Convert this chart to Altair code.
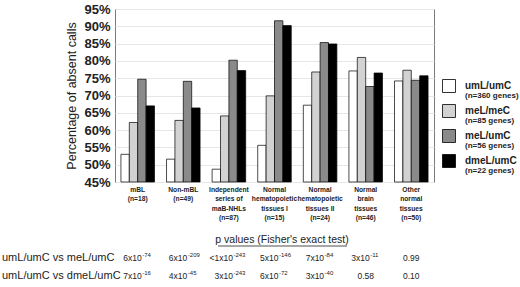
import altair as alt
import pandas as pd

groups = [
    "mBL|(n=18)",
    "Non-mBL|(n=49)",
    "Independent|series of|maB-NHLs|(n=87)",
    "Normal|hematopoietic|tissues I|(n=15)",
    "Normal|hematopoietic|tissues II|(n=24)",
    "Normal|brain|tissues|(n=46)",
    "Other|normal|tissues|(n=50)",
]
series = ["umL/umC", "meL/meC", "meL/umC", "dmeL/umC"]
series_n = ["(n=360 genes)", "(n=85 genes)", "(n=56 genes)", "(n=22 genes)"]
colors = ["#ffffff", "#d2d2d2", "#8a8a8a", "#000000"]

umL_umC = [53.0, 51.6, 48.7, 55.6, 67.2, 77.1, 74.2]
meL_meC = [62.2, 62.8, 64.1, 69.9, 76.8, 81.0, 77.3]
meL_umC = [74.7, 74.1, 80.2, 91.6, 85.3, 72.6, 74.4]
dmeL_umC = [67.0, 66.4, 77.2, 90.2, 84.9, 76.5, 75.7]

y_ticks = [45, 50, 55, 60, 65, 70, 75, 80, 85, 90, 95]

p_title = "p values (Fisher's exact test)"
row_labels = ["umL/umC vs meL/umC", "umL/umC vs dmeL/umC"]
row1_mant = ["6x10", "6x10", "<1x10", "5x10", "7x10", "3x10", "0.99"]
row1_exp = ["-74", "-209", "-243", "-146", "-84", "-11", ""]
row2_mant = ["7x10", "4x10", "3x10", "6x10", "3x10", "0.58", "0.10"]
row2_exp = ["-16", "-45", "-243", "-72", "-40", "", ""]

FONT = "Liberation Sans"

rows = []
for s, vals in zip(series, [umL_umC, meL_meC, meL_umC, dmeL_umC]):
    for g, v in zip(groups, vals):
        rows.append({"group": g, "series": s, "value": v})
bars_df = pd.DataFrame(rows)

xenc = alt.X(
    "group:N",
    sort=groups,
    scale=alt.Scale(domain=groups, paddingInner=0.264, paddingOuter=0.13),
    axis=alt.Axis(
        title=None,
        labelExpr="split(datum.label, '|')",
        labelAngle=0,
        labelFont=FONT,
        labelFontWeight="bold",
        labelFontSize=6.7,
        labelLineHeight=9.5,
        labelColor="#222",
        labelPadding=4,
        labelOverlap=False,
        labelLimit=0,
        ticks=False,
        domain=False,
    ),
)

bars = alt.Chart(bars_df).mark_bar(stroke="#000", strokeWidth=0.7).encode(
    x=xenc,
    xOffset=alt.XOffset("series:N", sort=series, scale=alt.Scale(domain=series, paddingInner=0, paddingOuter=0)),
    y=alt.Y(
        "value:Q",
        scale=alt.Scale(domain=[45, 95], zero=False, nice=False, clamp=True),
        axis=alt.Axis(
            title="Percentage of absent calls",
            titleFont=FONT,
            titleFontSize=12.5,
            titleFontWeight="normal",
            titleColor="#222",
            titlePadding=5,
            values=y_ticks,
            labelExpr="datum.value + '%'",
            labelFont=FONT,
            labelFontWeight="bold",
            labelFontSize=13,
            labelColor="#222",
            labelPadding=5,
            ticks=False,
            domain=False,
            grid=True,
            gridColor="#e6e6e6",
        ),
    ),
    y2=alt.datum(45),
    color=alt.Color(
        "series:N",
        sort=series,
        scale=alt.Scale(domain=series, range=colors),
        legend=alt.Legend(
            title=None,
            orient="none",
            legendX=327,
            legendY=70,
            symbolType="square",
            symbolSize=169,
            symbolStrokeColor="#000",
            symbolStrokeWidth=0.8,
            symbolOpacity=1,
            labelFont=FONT,
            labelFontWeight="bold",
            labelFontSize=10,
            labelColor="#222",
            labelOffset=9,
            rowPadding=7,
            padding=0,
        ),
    ),
)

n_df = pd.DataFrame({"series": series, "n": series_n})
n_text = alt.Chart(n_df).mark_text(
    align="left", baseline="middle", font=FONT, fontWeight="bold", fontSize=8, color="#222"
).encode(
    x=alt.value(350),
    y=alt.Y("series:N", sort=series, scale=alt.Scale(domain=series, range=[87, 162], padding=0), axis=None),
    text="n:N",
)

layers = [bars]

# p-value table
title_df = pd.DataFrame({"t": [p_title]})
layers.append(
    alt.Chart(title_df).mark_text(
        align="center", baseline="middle", font=FONT, fontSize=10.5, color="#222"
    ).encode(x=alt.value(167), y=alt.value(231), text="t:N")
)
layers.append(
    alt.Chart(title_df).mark_rule(color="#222", strokeWidth=0.8).encode(
        x=alt.value(103), x2=alt.value(232), y=alt.value(237)
    )
)

for ri, (lab, mant, exps, ypos) in enumerate(
    [(row_labels[0], row1_mant, row1_exp, 249), (row_labels[1], row2_mant, row2_exp, 267)]
):
    lab_df = pd.DataFrame({"t": [lab]})
    layers.append(
        alt.Chart(lab_df).mark_text(
            align="left", baseline="middle", font=FONT, fontSize=11, color="#222"
        ).encode(x=alt.value(-113), y=alt.value(ypos), text="t:N")
    )
    df = pd.DataFrame({"group": groups, "mant": mant, "exp": exps})
    base = alt.Chart(df)
    layers.append(
        base.transform_filter("datum.exp != ''").mark_text(
            align="right", baseline="middle", font=FONT, fontSize=8.5, color="#222", dx=4
        ).encode(x=xenc, y=alt.value(ypos), text="mant:N")
    )
    layers.append(
        base.transform_filter("datum.exp != ''").mark_text(
            align="left", baseline="middle", font=FONT, fontSize=6, color="#222", dx=4.5, dy=-3
        ).encode(x=xenc, y=alt.value(ypos), text="exp:N")
    )
    layers.append(
        base.transform_filter("datum.exp == ''").mark_text(
            align="center", baseline="middle", font=FONT, fontSize=8.5, color="#222"
        ).encode(x=xenc, y=alt.value(ypos), text="mant:N")
    )

main = alt.layer(*layers)

chart = alt.layer(main, n_text).resolve_scale(y="independent").properties(
    width=319,
    height=173,
    autosize=alt.AutoSizeParams(type="none"),
    padding={"left": 115, "top": 9, "right": 86, "bottom": 105},
    background="white",
).configure_view(stroke="#7a7a7a", strokeWidth=1)

chart.save("out.html", embed_options={"renderer": "svg", "actions": False})
